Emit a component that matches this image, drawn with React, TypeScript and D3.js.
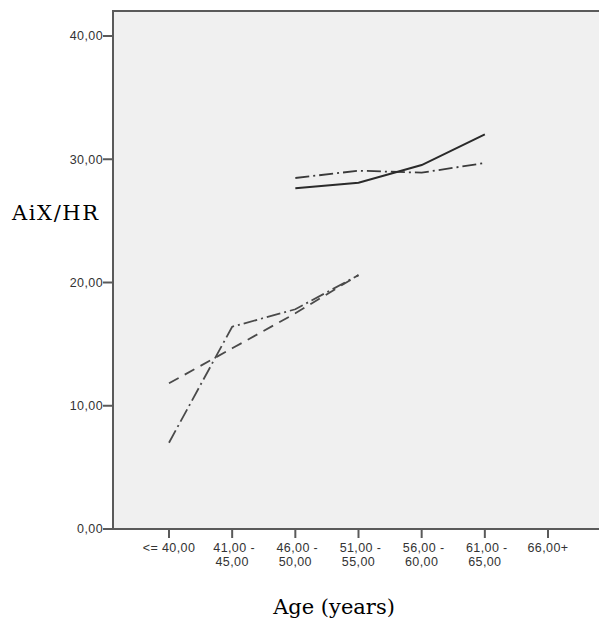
import React from "react";
import * as d3 from "d3";

const categories = ["<= 40,00", "41,00 - 45,00", "46,00 - 50,00", "51,00 - 55,00", "56,00 - 60,00", "61,00 - 65,00", "66,00+"];
const categoryLines = [["<= 40,00"], ["41,00 -", "45,00"], ["46,00 -", "50,00"], ["51,00 -", "55,00"], ["56,00 -", "60,00"], ["61,00 -", "65,00"], ["66,00+"]];
const yTicks = [0, 10, 20, 30, 40];

const seriesSolid: (number | null)[] = [null, null, 27.64, 28.1, 29.53, 32.02, null];
const seriesDashDotUpper: (number | null)[] = [null, null, 28.48, 29.07, 28.91, 29.7, null];
const seriesDashed: (number | null)[] = [11.82, 14.66, 17.5, 20.6, null, null, null];
const seriesDashDotLower: (number | null)[] = [7.0, 16.41, 17.83, 20.6, null, null, null];

const W = 599, H = 620;
const left = 113, top = 11, bottom = 529;

export default function App() {
  const x = d3.scalePoint<string>().domain(categories).range([169, 548]);
  const y = d3.scaleLinear().domain([0, 40]).range([529, 36]);

  const line = d3.line<number | null>()
    .defined((d) => d !== null)
    .x((_, i) => x(categories[i]) as number)
    .y((d) => y(d as number));

  const series = [
    { data: seriesDashed, stroke: "#4a4a4a", dash: "11,7", width: 1.8 },
    { data: seriesDashDotLower, stroke: "#4a4a4a", dash: "14,4,2,4", width: 1.8 },
    { data: seriesDashDotUpper, stroke: "#3a3a3a", dash: "14,4,2,4", width: 1.8 },
    { data: seriesSolid, stroke: "#2a2a2a", dash: undefined, width: 2 },
  ];

  const tickFont = "'Liberation Sans', Arial, sans-serif";
  const titleFont = "'DejaVu Serif', serif";

  return (
    <svg width={W} height={H} style={{ position: "absolute", left: 0, top: 0, background: "#fff" }}>
      <rect x={left} y={top} width={W - left + 10} height={bottom - top} fill="#f0f0f0" stroke="#5a5a5a" strokeWidth={2} />
      {series.map((s, i) => (
        <path key={i} d={line(s.data) || ""} fill="none" stroke={s.stroke} strokeWidth={s.width} strokeDasharray={s.dash} />
      ))}
      {yTicks.map((t) => (
        <g key={t}>
          <line x1={left - 10} x2={left} y1={y(t)} y2={y(t)} stroke="#5a5a5a" strokeWidth={2} />
          <text x={left - 10} y={y(t)} dy="0.35em" textAnchor="end" fontFamily={tickFont} fontSize={12.5} letterSpacing={0.4} fill="#333">
            {d3.format(".2f")(t).replace(".", ",")}
          </text>
        </g>
      ))}
      {categories.map((c, i) => (
        <g key={c}>
          <line x1={x(c)} x2={x(c)} y1={bottom} y2={bottom + 9} stroke="#5a5a5a" strokeWidth={2} />
          {categoryLines[i].map((ln, j) => (
            <text key={j} x={(x(c) as number) + (j === 0 && categoryLines[i].length > 1 ? 2 : 0)} y={552 + j * 14} textAnchor="middle" fontFamily={tickFont} fontSize={12.5} letterSpacing={0.4} fill="#333">
              {ln}
            </text>
          ))}
        </g>
      ))}
      <text x={12} y={220} fontFamily={titleFont} fontSize={21} letterSpacing={1.6} fill="#000">AiX/HR</text>
      <text x={334} y={614} textAnchor="middle" fontFamily={titleFont} fontSize={21} fill="#000">Age (years)</text>
    </svg>
  );
}
